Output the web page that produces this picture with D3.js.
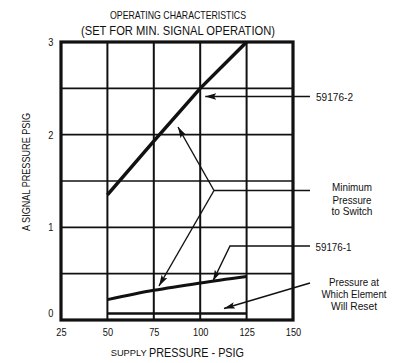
<!DOCTYPE html>
<html><head><meta charset="utf-8">
<script src="https://cdn.jsdelivr.net/npm/d3@7"></script>
<style>
body{margin:0;background:#fff;}
svg{display:block;}
text{font-family:"Liberation Sans",Arial,sans-serif;fill:#111;}
</style></head>
<body><svg id="c" width="401" height="363"></svg>
<script>
const xTicks = [25, 50, 75, 100, 125, 150];
const yTicks = [0, 1, 2, 3];
const yGrid = [0.5, 1, 1.5, 2, 2.5];
const supply = [50, 75, 100, 125];
const series2 = [1.35, 1.93, 2.5, 3.0];   // 59176-2
const series1 = [0.22, 0.32, 0.40, 0.47]; // 59176-1
const reset = [0.07, 0.07, 0.07, 0.07];   // reset pressure

const svg = d3.select("#c");
const L = 61, R = 293, T = 42, B = 320;
const x = d3.scaleLinear().domain([25, 150]).range([L, R]);
const y = d3.scaleLinear().domain([0, 3]).range([B, T]);

// grid
svg.append("g").selectAll("line").data(xTicks.slice(1, -1)).join("line")
  .attr("x1", d => x(d)).attr("x2", d => x(d)).attr("y1", T).attr("y2", B)
  .attr("stroke", "#111").attr("stroke-width", 2);
svg.append("g").selectAll("line").data(yGrid).join("line")
  .attr("x1", L).attr("x2", R).attr("y1", d => y(d)).attr("y2", d => y(d))
  .attr("stroke", "#111").attr("stroke-width", 1.7);
// frame
svg.append("rect").attr("x", L).attr("y", T).attr("width", R - L).attr("height", B - T)
  .attr("fill", "none").attr("stroke", "#111").attr("stroke-width", 3.2);

// axes tick labels
const xa = svg.append("g").attr("transform", `translate(0,${B})`)
  .call(d3.axisBottom(x).tickValues(xTicks).tickFormat(d3.format("d")).tickSize(0).tickPadding(8));
xa.select(".domain").remove();
xa.selectAll("text").attr("font-size", 11).attr("font-family", null)
  .attr("transform", "scale(0.84,1)");
const ya = svg.append("g").attr("transform", `translate(${L},0)`)
  .call(d3.axisLeft(y).tickValues(yTicks).tickFormat(d3.format("d")).tickSize(0).tickPadding(9));
ya.select(".domain").remove();
ya.selectAll("text").attr("font-size", 11).attr("font-family", null)
  .attr("transform", "scale(0.84,1)")
  .attr("dy", d => d === 0 ? "-0.35em" : "0.32em");

// data lines
const straight = d3.line().x((d, i) => x(supply[i])).y(d => y(d));
const curved = d3.line().x((d, i) => x(supply[i])).y(d => y(d)).curve(d3.curveMonotoneX);
svg.append("path").datum(series2).attr("d", straight).attr("fill", "none")
  .attr("stroke", "#111").attr("stroke-width", 3.5);
svg.append("path").datum(series1).attr("d", curved).attr("fill", "none")
  .attr("stroke", "#111").attr("stroke-width", 3);
svg.append("path").datum(reset).attr("d", straight).attr("fill", "none")
  .attr("stroke", "#111").attr("stroke-width", 2.6);

// arrowhead marker
const defs = svg.append("defs");
defs.append("marker").attr("id", "ah").attr("viewBox", "0 0 10 10")
  .attr("refX", 10).attr("refY", 5).attr("markerWidth", 11).attr("markerHeight", 11)
  .attr("markerUnits", "userSpaceOnUse").attr("orient", "auto")
  .append("path").attr("d", "M0,2 L10,5 L0,8 L2,5 Z").attr("fill", "#111");

const ann = svg.append("g").attr("fill", "none").attr("stroke", "#111").attr("stroke-width", 1.4);
ann.append("path").attr("d", `M310,96.5 L${x(100) + 5},96.5`).attr("marker-end", "url(#ah)");
ann.append("path").attr("d", `M310,190.5 L214,190.5`);
ann.append("path").attr("d", `M214,190.5 L178,127`).attr("marker-end", "url(#ah)");
ann.append("path").attr("d", `M214,190.5 L159,286`).attr("marker-end", "url(#ah)");
ann.append("path").attr("d", `M310,246 L230,246 L213,281`).attr("marker-end", "url(#ah)");
ann.append("path").attr("d", `M310,283 L224,308.5`).attr("marker-end", "url(#ah)");

// text helper with fixed width (condensed type)
const t = (txt, xx, yy, size, w, anchor) => svg.append("text").attr("x", xx).attr("y", yy)
  .attr("font-size", size).attr("text-anchor", anchor || "start")
  .attr("textLength", w).attr("lengthAdjust", "spacingAndGlyphs").text(txt);
t("59176-2", 316, 100.5, 11.5, 37);
t("59176-1", 315.5, 250.5, 11.5, 36);
t("Minimum", 352, 191, 11.5, 40, "middle");
t("Pressure", 352, 203.5, 11.5, 39, "middle");
t("to Switch", 352, 215, 11.5, 41, "middle");
t("Pressure at", 354, 286, 11.5, 50, "middle");
t("Which Element", 354, 297.5, 11.5, 65, "middle");
t("Will Reset", 354, 309.5, 11.5, 46, "middle");

// titles
t("OPERATING CHARACTERISTICS", 178, 19, 10.5, 136, "middle");
t("(SET FOR MIN. SIGNAL OPERATION)", 178, 34.5, 13.5, 194, "middle");
t("SUPPLY", 110.7, 356, 9.2, 36);
t("PRESSURE - PSIG", 149, 356.5, 12, 95);
svg.append("text").attr("transform", "translate(29.5,172) rotate(-90)").attr("text-anchor", "middle")
  .attr("font-size", 11.5).attr("textLength", 118).attr("lengthAdjust", "spacingAndGlyphs")
  .text("A SIGNAL PRESSURE PSIG");
</script></body></html>
